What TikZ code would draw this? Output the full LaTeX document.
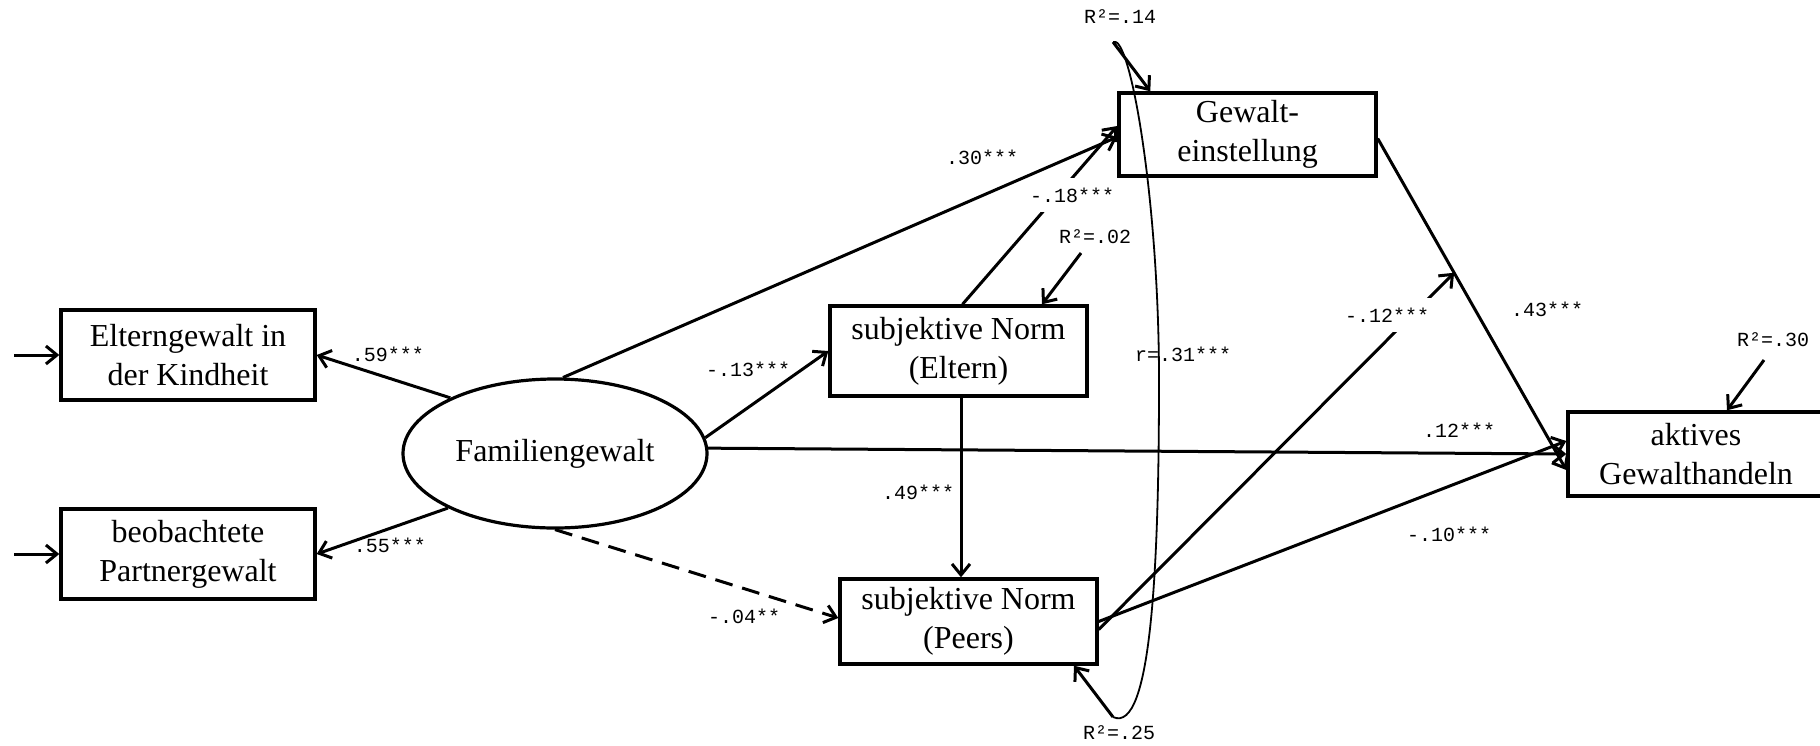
\documentclass[tikz,border=0pt]{standalone}
\usepackage{amsmath}
\usepackage{fontspec}
\setmainfont{Liberation Serif}
\setmonofont{Liberation Mono}
\usetikzlibrary{shapes.geometric,arrows.meta}

\begin{document}
\begin{tikzpicture}[x=0.5pt,y=0.5pt,yscale=-1,xscale=1,
  line width=1.5pt,>={Straight Barb[length=5.5pt,width=9pt]},
  var/.style={draw,line width=1.7pt,align=center,inner sep=0pt,font=\fontsize{16}{19.5}\selectfont},
  lat/.style={draw,ellipse,line width=1.6pt,inner sep=0pt,minimum width=152pt,minimum height=74.5pt,font=\fontsize{16}{19.5}\selectfont},
  coef/.style={font=\ttfamily\fontsize{10}{12}\selectfont,inner sep=1pt},
  coefw/.style={coef,fill=white,minimum height=17pt}]
\useasboundingbox (0,0) rectangle (1820,745);

%Shape: Rectangle [observed]
\node[var,minimum width=127pt,minimum height=45pt] (elt) at (188,355) {Elterngewalt in\\der Kindheit};
\node[var,minimum width=127pt,minimum height=45pt] (beo) at (188,554) {beobachtete\\Partnergewalt};
%Shape: Ellipse [latent]
\node[lat] (fam) at (555,453.5) {Familiengewalt};
%Shape: Rectangle [endogenous]
\node[var,minimum width=128.5pt,minimum height=41.5pt] (ein) at (1247.5,134.5) {Gewalt-\\einstellung};
\node[var,minimum width=128.5pt,minimum height=45pt] (sne) at (958.5,351) {subjektive Norm\\(Eltern)};
\node[var,minimum width=128.5pt,minimum height=42.5pt] (snp) at (968.5,621.5) {subjektive Norm\\(Peers)};
\node[var,minimum width=128pt,minimum height=42pt] (akt) at (1696,454) {aktives\\Gewalthandeln};

% Text Node
\node[coef] (r2ein) at (1120,17) {R²=.14};
\node[coef] (r2sne) at (1095,237) {R²=.02};
\node[coef] (r2snp) at (1119,733) {R²=.25};
\node[coef] (r2akt) at (1773,340) {R²=.30};

%free ends
\coordinate (inelt) at (14,355);
\coordinate (inbeo) at (14,554);
\coordinate (uein) at (1113,42);
\coordinate (usne) at (1081,253);
\coordinate (usnp) at (1113,717);
\coordinate (uakt) at (1764,360);

%Straight Lines
\draw[->] (inelt) -- (elt);
\draw[->] (inbeo) -- (beo);
\draw[->] (fam.152) -- (elt.east);
\draw[->] (fam.207) -- (beo.east);
\draw[->] (fam.84) -- ([yshift=1.25pt]ein.west);
\draw[->] ([xshift=2pt]sne.north) -- ([yshift=-4.25pt]ein.west);
\draw[->] (usne) -- ([xshift=41.75pt]sne.north);
\draw[->] (fam.6) -- (sne.west);
\draw[->] ([xshift=1.25pt]sne.south) -- ([xshift=1.25pt]sne.south |- snp.north);
\draw[->,dash pattern=on 9pt off 5pt] (fam.south) -- ([yshift=-1.75pt]snp.west);
\draw[->] (fam.2) -- (akt.west);
\draw[->] ([yshift=2pt]ein.east) -- ([yshift=8pt]akt.west) coordinate[pos=0.405] (mod);
\draw[->] ([yshift=4pt]snp.east) -- (mod);
\draw[->] (snp.east) -- ([yshift=-6.5pt]akt.west);
\draw[->] (uein) -- ([xshift=16.5pt]ein.north west);
\draw[->] (usnp) -- ([xshift=52.75pt]snp.south);
\draw[->] (uakt) -- ([xshift=15.5pt]akt.north);

%Curve Lines [covariance]
\draw[line width=0.9pt] (uein) .. controls (1130,32) and (1159,200) .. (1159,380) .. controls (1159,560) and (1152,735) .. (usnp);

% Text Node
\node[coef] (l59) at (388,354) {.59***};
\node[coef] (l55) at (390,545) {.55***};
\node[coef] (l30) at (982,157) {.30***};
\node[coefw] (l18) at (1072,195) {-.18***};
\node[coef] (l13) at (748,369) {-.13***};
\node[coef] (l49) at (918,492) {.49***};
\node[coef] (l04) at (744,616) {-.04**};
\node[coef] (l12a) at (1459,430) {.12***};
\node[coef] (l43) at (1547,309) {.43***};
\node[coefw] (l12b) at (1387,315) {-.12***};
\node[coef] (l10) at (1449,534) {-.10***};
\node[coef] (l31) at (1183,354) {r=.31***};

\end{tikzpicture}
\end{document}
